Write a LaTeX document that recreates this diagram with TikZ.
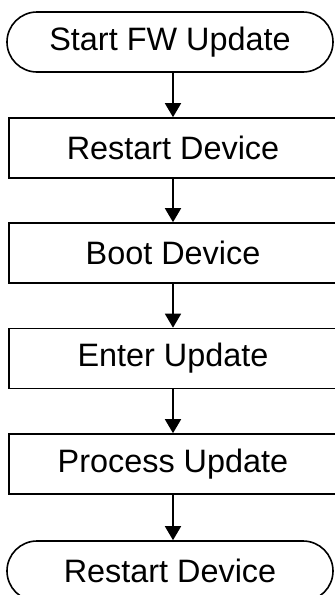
\documentclass[tikz,border=0pt]{standalone}
\usepackage{fontspec}
\setmainfont{Liberation Sans}
\usepackage{tikz}
\usetikzlibrary{arrows.meta, shapes.misc}

\tikzset{
  stepbox/.style={draw, line width=0.8pt, minimum width=164pt, minimum height=30pt,
    inner sep=0pt, font=\fontsize{16.2}{19}\selectfont},
  termbox/.style={stepbox, rounded rectangle, minimum width=163pt},
}

\begin{document}
\begin{tikzpicture}[x=0.5pt, y=-0.5pt, >={Triangle[length=7pt, width=8pt]}]
  \useasboundingbox (0,0) rectangle (334,595);

  \node[termbox] (T_start) at (170, 42) {Start FW Update};
  \node[stepbox] (B_restart) at (173, 148) {Restart Device};
  \node[stepbox] (B_boot) at (173, 253) {Boot Device};
  \node[stepbox] (B_enter) at (173, 358.5) {Enter Update};
  \node[stepbox] (B_process) at (173, 464) {Process Update};
  \node[termbox] (T_restart) at (170, 571) {Restart Device};

  \draw[->, line width=0.8pt] (T_start.south -| B_restart) -- (B_restart.north);
  \draw[->, line width=0.8pt] (B_restart) -- (B_boot);
  \draw[->, line width=0.8pt] (B_boot) -- (B_enter);
  \draw[->, line width=0.8pt] (B_enter) -- (B_process);
  \draw[->, line width=0.8pt] (B_process.south) -- (B_process.south |- T_restart.north);
\end{tikzpicture}
\end{document}
